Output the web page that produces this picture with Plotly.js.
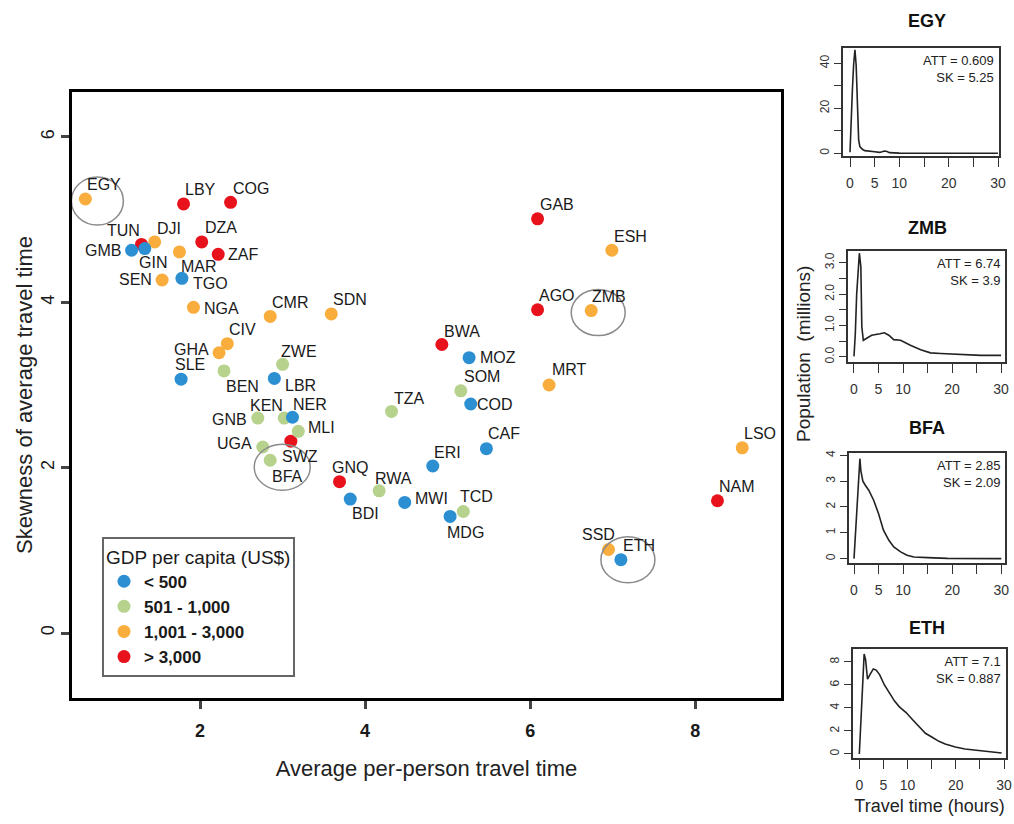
<!DOCTYPE html>
<html><head><meta charset="utf-8">
<script src="https://cdn.plot.ly/plotly-3.0.1.min.js"></script>
<style>html,body{margin:0;padding:0;background:#fff}#chart{width:1014px;height:824px}</style>
</head><body><div id="chart"></div>
<script>
// ---- main scatter data ----
const codes = ['EGY','LBY','COG','TUN','DJI','GMB','GIN','MAR','SEN','TGO','DZA','ZAF','NGA','CMR','SDN','CIV','GHA','BEN','SLE','ZWE','LBR','GNB','KEN','NER','MLI','SWZ','UGA','BFA','GNQ','RWA','BDI','TZA','SOM','COD','CAF','ERI','MWI','TCD','MDG','GAB','ESH','AGO','ZMB','BWA','MOZ','MRT','LSO','NAM','SSD','ETH'];
const att  = [0.61,1.80,2.37,1.29,1.45,1.17,1.33,1.75,1.54,1.78,2.02,2.22,1.92,2.85,3.59,2.33,2.23,2.29,1.77,3.00,2.90,2.70,3.02,3.12,3.19,3.10,2.76,2.85,3.69,4.17,3.82,4.32,5.16,5.28,5.47,4.82,4.48,5.19,5.03,6.09,6.99,6.09,6.74,4.93,5.26,6.23,8.57,8.27,6.95,7.10];
const skew = [5.25,5.19,5.21,4.70,4.73,4.63,4.65,4.61,4.27,4.29,4.73,4.58,3.94,3.83,3.86,3.50,3.39,3.17,3.07,3.25,3.08,2.60,2.60,2.61,2.44,2.32,2.25,2.09,1.83,1.72,1.62,2.68,2.93,2.77,2.23,2.02,1.58,1.47,1.41,5.01,4.63,3.91,3.90,3.49,3.33,3.00,2.24,1.60,1.01,0.887];
// 0: < 500, 1: 501-1,000, 2: 1,001-3,000, 3: > 3,000
const gdpGroup = [2,3,3,3,2,0,0,2,2,0,3,3,2,2,2,2,2,1,0,1,0,1,1,0,1,3,1,1,3,1,0,1,1,0,0,0,0,1,0,3,2,3,2,3,0,2,2,3,2,0];
const groupNames = ['< 500','501 - 1,000','1,001 - 3,000','> 3,000'];
const groupColors = ['#2b8fd2','#b6d28c','#f9ad3c','#e8121c'];

// ---- highlighted countries (side panels) ----
const panelCodes = ['EGY','ZMB','BFA','ETH'];
const panelATT = ['0.609','6.74','2.85','7.1'];
const panelSK  = ['5.25','3.9','2.09','0.887'];
const hoursEGY = [0,0.25,0.5,0.75,1.0,1.25,1.5,1.75,2.0,2.5,3,4,5,6,7,7.5,8,9,10,15,20,25,30];
const popEGY   = [0.5,17,29,40,46,39,25,6,3,1.8,1.2,0.8,0.7,0.4,1.0,0.8,0.3,0.2,0.1,0.05,0.02,0.01,0];
const hoursZMB = [0,0.27,0.55,0.8,1.1,1.4,1.6,1.9,2.5,3.6,5.3,6.2,7.1,8.1,9.5,11.5,13.6,15.6,17.7,20.4,23.2,25.9,30];
const popZMB   = [0.02,0.74,2.0,2.8,3.3,2.87,0.96,0.53,0.58,0.69,0.74,0.77,0.69,0.55,0.53,0.37,0.23,0.13,0.11,0.09,0.05,0.05,0.05];
const hoursBFA = [0,0.2,0.55,0.9,1.2,1.4,1.8,2.3,3.0,4.0,5.0,6.0,7.1,8.1,9.5,10.8,12.2,15,19,30];
const popBFA   = [0,0.58,1.6,2.6,3.87,3.4,3.0,2.84,2.65,2.26,1.74,1.1,0.71,0.45,0.26,0.13,0.06,0.04,0.01,0];
const hoursETH = [0,0.14,0.5,0.8,1.0,1.3,1.7,2.2,2.9,3.5,4.2,5.2,6.3,7.3,8.3,9.7,11.0,12.4,13.7,15.1,16.5,17.8,19.9,21.9,24.6,27.3,29.5];
const popETH   = [0,1.25,5.3,7.9,8.7,8.2,6.5,6.9,7.4,7.3,6.9,6.0,5.2,4.6,4.1,3.6,3.0,2.4,1.8,1.45,1.1,0.87,0.6,0.43,0.29,0.2,0.09];

// ---- presentation settings ----
const W = 1014, H = 824;
const FONT = 'Liberation Sans, Arial, sans-serif';
const px = p => p / W;
const py = p => 1 - p / H;
// label offsets in screen pixels [dx, dy(down)]
const labelOffset = {EGY:[19,-14],LBY:[17,-14],COG:[20,-14],TUN:[-18,-14],DJI:[14,-13],GMB:[-29,0],GIN:[8,14],MAR:[20,15],SEN:[-27,0],TGO:[29,5],DZA:[19,-14],ZAF:[25,0],NGA:[28,1],CMR:[20,-14],SDN:[19,-14],CIV:[15,-14],GHA:[-28,-3],BEN:[18,16],SLE:[9,-15],ZWE:[16,-13],LBR:[26,7],GNB:[-28,1],KEN:[-18,-13],NER:[18,-13],MLI:[23,-4],SWZ:[9,15],UGA:[-28,-3],BFA:[17,16],GNQ:[10,-14],RWA:[14,-12],BDI:[15,14],TZA:[18,-13],SOM:[21,-14],COD:[24,0],CAF:[18,-15],ERI:[15,-14],MWI:[27,-4],TCD:[13,-15],MDG:[15,16],GAB:[19,-14],ESH:[19,-14],AGO:[19,-14],ZMB:[18,-14],BWA:[20,-13],MOZ:[29,0],MRT:[20,-15],LSO:[18,-14],NAM:[20,-14],SSD:[-10,-15],ETH:[18,-14]};
// highlight ellipses [dx, dy(down), rx, ry] in pixels relative to the point
const ringOffset = {EGY:[12,2,26,24],ZMB:[7,2,27,23],BFA:[12,7,28,23],ETH:[7,0,27,23]};

const traces = [];
[3,2,1,0].forEach(g => {
  const idx = codes.map((c,i)=>i).filter(i => gdpGroup[i] === g);
  traces.push({
    type:'scatter', mode:'markers', name: groupNames[g],
    x: idx.map(i=>att[i]), y: idx.map(i=>skew[i]), text: idx.map(i=>codes[i]),
    marker:{color: groupColors[g], size:13, line:{width:0}},
    legendrank: g+1, legendgroup: 'g'+g, xaxis:'x', yaxis:'y', hoverinfo:'text+x+y'
  });
});
const panelData = [[hoursEGY,popEGY],[hoursZMB,popZMB],[hoursBFA,popBFA],[hoursETH,popETH]];
panelData.forEach((d,k) => {
  traces.push({type:'scatter', mode:'lines', x:d[0], y:d[1], showlegend:false,
    line:{color:'#222', width:1.6}, xaxis:'x'+(k+2), yaxis:'y'+(k+2)});
});

const annotations = codes.map((c,i) => ({
  x: att[i], y: skew[i], xref:'x', yref:'y', text: c, showarrow:false,
  xshift: labelOffset[c][0], yshift: -labelOffset[c][1],
  font:{family:FONT, size:16, color:'#1a1a1a'}
}));
const shapes = panelCodes.map(c => {
  const i = codes.indexOf(c), o = ringOffset[c];
  return {type:'circle', xref:'x', yref:'y', xsizemode:'pixel', ysizemode:'pixel',
    xanchor: att[i], yanchor: skew[i], x0: o[0]-o[2], x1: o[0]+o[2], y0: -o[1]-o[3], y1: -o[1]+o[3],
    line:{color:'#8a8a8a', width:1.5}};
});

// panel boxes: [left, right, top, bottom] px and ranges
const panelBox = [[843,999,48,156],[848,1005,251,362],[849,1005,453,563],[853,1006,649,758]];
const panelXR = [[-1.42,30.2],[-1.22,30.8],[-1.02,30.75],[-1.31,30.4]];
const panelYR = [[-1.2,46.8],[-0.16,3.37],[-0.17,4.09],[-0.35,9.13]];
const panelYT = [[0,10,20,30,40],[0,0.5,1,1.5,2,2.5,3],[0,1,2,3,4],[0,2,4,6,8]];
const panelYL = [['0','','20','','40'],['0.0','','1.0','','2.0','','3.0'],['0','1','2','3','4'],['0','2','4','6','8']];
const panelTitleY = [21,228,428,628];

const layout = {
  width: W, height: H, margin:{l:0,r:0,t:0,b:0}, paper_bgcolor:'#fff', plot_bgcolor:'#fff',
  font:{family:FONT, color:'#1a1a1a'},
  showlegend:true,
  legend:{x:px(102), y:py(537), xanchor:'left', yanchor:'top', bgcolor:'#fff',
    bordercolor:'#666', borderwidth:2, tracegroupgap:0,
    font:{family:FONT, size:17, weight:'bold', color:'#1a1a1a'},
    title:{text:'GDP per capita (US$)', font:{family:FONT, size:19, weight:'normal', color:'#1a1a1a'}}},
  xaxis:{domain:[px(72),px(781)], range:[0.448,9.04], tickvals:[2,4,6,8], ticks:'outside', ticklen:8, tickwidth:3,
    showline:true, linewidth:3, linecolor:'#000', mirror:true, showgrid:false, zeroline:false,
    tickfont:{size:18, weight:'bold'}, ticklabelstandoff:6, anchor:'y',
    title:{text:'Average per-person travel time', font:{size:22, color:'#222'}, standoff:22}},
  yaxis:{domain:[py(698),py(92)], range:[-0.786,6.544], tickvals:[0,2,4,6], ticks:'outside', ticklen:8, tickwidth:3,
    showline:true, linewidth:3, linecolor:'#000', mirror:true, showgrid:false, zeroline:false,
    tickfont:{size:18}, tickangle:-90, anchor:'x',
    title:{text:'Skewness of average travel time', font:{size:22, color:'#222'}, standoff:0}},
  annotations: annotations, shapes: shapes
};
panelBox.forEach((b,k) => {
  const n = k+2;
  layout['xaxis'+n] = {domain:[px(b[0]),px(b[1])], range:panelXR[k], anchor:'y'+n,
    tickvals:[0,5,10,15,20,25,30], ticktext:['0','5','10','','20','','30'],
    ticks:'outside', ticklen:9, tickwidth:1.2, tickcolor:'#333', showline:true, linewidth:1.5, linecolor:'#333', mirror:true,
    showgrid:false, zeroline:false, tickfont:{size:14, color:'#333'}, ticklabelstandoff:4};
  layout['yaxis'+n] = {domain:[py(b[3]),py(b[2])], range:panelYR[k], anchor:'x'+n,
    tickvals:panelYT[k], ticktext:panelYL[k], tickangle:-90,
    ticks:'outside', ticklen:7, tickwidth:1.2, tickcolor:'#333', showline:true, linewidth:1.5, linecolor:'#333', mirror:true,
    showgrid:false, zeroline:false, tickfont:{size:12, color:'#333'}};
  annotations.push({xref:'paper', yref:'paper', x:px(927), y:py(panelTitleY[k]), text:'<b>'+panelCodes[k]+'</b>',
    showarrow:false, xanchor:'center', yanchor:'middle', font:{size:18, color:'#111'}});
  annotations.push({xref:'x'+n+' domain', yref:'y'+n+' domain', x:0.98, y:0.97, xanchor:'right', yanchor:'top',
    text:'ATT = '+panelATT[k]+'<br>SK = '+panelSK[k], align:'right', showarrow:false,
    font:{size:13, color:'#222'}});
});
layout.xaxis5.title = {text:'Travel time (hours)', font:{size:18, color:'#222'}, standoff:8};
annotations.push({xref:'paper', yref:'paper', x:px(804), y:py(354), text:'Population  (millions)', textangle:-90,
  showarrow:false, xanchor:'center', yanchor:'middle', font:{size:19, color:'#222'}});

Plotly.newPlot('chart', traces, layout, {displayModeBar:false, responsive:false});
</script></body></html>
